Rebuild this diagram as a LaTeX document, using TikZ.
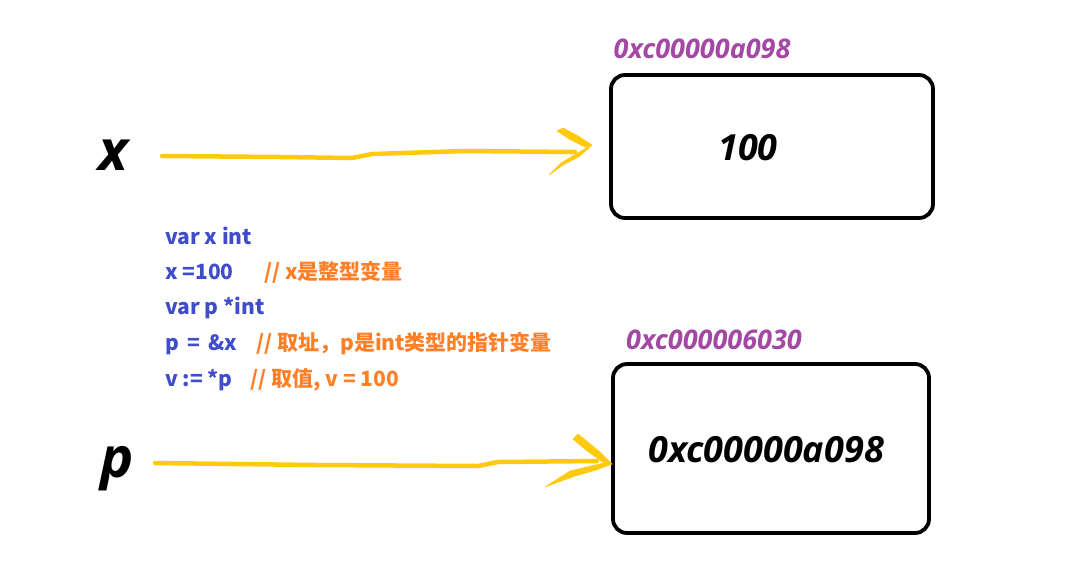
\documentclass[tikz,border=0pt]{standalone}
\usepackage{fontspec}
\newfontfamily\cjk{Noto Sans CJK SC}
\newfontfamily\lab{Open Sans}
\definecolor{codeblue}{HTML}{3F4CCB}
\definecolor{codeorange}{HTML}{FF7F27}
\definecolor{addrpurple}{HTML}{A349A4}
\definecolor{penyellow}{HTML}{FFC90E}
\begin{document}
\begin{tikzpicture}[x=1pt,y=-1pt,
  membox/.style={draw=black,line width=3.8pt,rounded corners=14pt,minimum width=322pt,minimum height=143pt,inner sep=0pt},
  value/.style={font=\lab\bfseries\itshape\fontsize{36}{36}\selectfont,text=black},
  addr/.style={font=\lab\bfseries\itshape\fontsize{27}{27}\selectfont,text=addrpurple},
  varname/.style={font=\lab\bfseries\itshape\fontsize{56}{56}\selectfont,text=black},
  code/.style={font=\cjk\bfseries\fontsize{21}{21}\selectfont,text=codeblue,anchor=west,inner sep=0pt},
  pen/.style={draw=penyellow,line width=4.5pt,line cap=round,line join=round},
  barb/.style={fill=penyellow,draw=penyellow,line width=0.6pt,line join=round}]
\useasboundingbox (0,0) rectangle (1079,582);

% memory cells
\node[membox] (bx) at (772,146.5) {};
\node[value] (vx) at (748,148) {100};
\node[addr] (ax) at (702,49) {0xc00000a098};

\node[membox,minimum width=316pt,minimum height=169pt] (bp) at (771,448.5) {};
\node[value] (vp) at (766,450) {0xc00000a098};
\node[addr] (ap) at (714,340) {0xc000006030};

% variable names
\node[varname] (nx) at (113,155) {x};
\node[varname] (np) at (117,469) {p};

% code listing
\node[code] (l1) at (165,236) {var x int};
\node[code] (l2) at (165,272) {x =100 \quad\ \textcolor{codeorange}{// x是整型变量}};
\node[code] (l3) at (165,308) {var p *int};
\node[code] (l4) at (165,344) {p\hspace{4pt} = \hspace{3pt}\&x\hspace{19pt}\textcolor{codeorange}{// 取址，p是int类型的指针变量}};
\node[code] (l5) at (165,380) {v := *p\hspace{18pt}\textcolor{codeorange}{// 取值, v = 100}};

% hand-drawn arrow x -> cell
\coordinate (xs) at (162,156);
\coordinate (xt) at (592,145);
\draw[pen] (xs) -- (280,157) -- (352,158) -- (372,154) -- (465,151) -- (575,152);
\fill[barb] (557,131) -- (563,128) -- (578,136) -- (xt) -- (585,147) -- (571,140) -- cycle;
\fill[barb] (xt) -- (580,156) -- (563,165) -- (549,175) -- (561,163) -- (586,148) -- cycle;

% hand-drawn arrow p -> cell
\coordinate (ps) at (155,463);
\coordinate (pt) at (612,464);
\draw[pen] (ps) -- (315,465) -- (478,466) -- (498,462) -- (597,461);
\fill[barb] (573,439) -- (578,434) -- (600,452) -- (pt) -- (604,463) -- (586,450) -- cycle;
\fill[barb] (pt) -- (596,470) -- (575,476) -- (545,487) -- (570,471) -- (604,463) -- cycle;
\end{tikzpicture}
\end{document}
